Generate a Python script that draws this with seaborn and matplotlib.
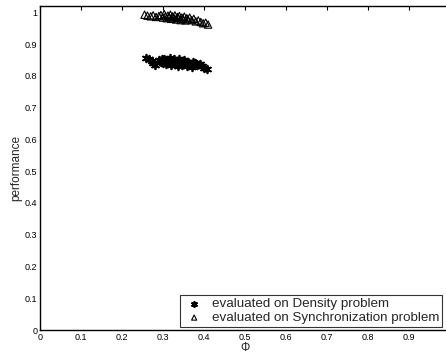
import matplotlib
matplotlib.use("Agg")
import matplotlib.pyplot as plt
import seaborn as sns
import pandas as pd

# Density problem (stars)
dens_x = [0.258, 0.265, 0.272, 0.276, 0.280, 0.290, 0.295, 0.298, 0.300, 0.303, 0.306,
          0.308, 0.311, 0.314, 0.316, 0.319, 0.322, 0.325, 0.327, 0.330, 0.333, 0.336,
          0.338, 0.341, 0.344, 0.347, 0.350, 0.352, 0.355, 0.358, 0.362, 0.366, 0.370,
          0.374, 0.378, 0.383, 0.390, 0.395, 0.400, 0.408]
dens_y = [0.856, 0.853, 0.848, 0.840, 0.834, 0.850, 0.845, 0.855, 0.840, 0.852, 0.846,
          0.838, 0.850, 0.843, 0.856, 0.835, 0.848, 0.842, 0.852, 0.838, 0.846, 0.830,
          0.855, 0.842, 0.848, 0.835, 0.851, 0.840, 0.845, 0.830, 0.843, 0.838, 0.828,
          0.845, 0.840, 0.835, 0.838, 0.830, 0.826, 0.822]

# Synchronization problem (triangles)
sync_x = [0.255, 0.262, 0.270, 0.276, 0.283, 0.290, 0.295, 0.300, 0.303, 0.306, 0.309,
          0.312, 0.315, 0.318, 0.320, 0.323, 0.326, 0.329, 0.332, 0.335, 0.338, 0.340,
          0.343, 0.346, 0.349, 0.352, 0.355, 0.358, 0.361, 0.365, 0.370, 0.375, 0.380,
          0.386, 0.392, 0.398, 0.404, 0.410]
sync_y = [0.993, 0.990, 0.988, 0.991, 0.986, 0.989, 0.992, 0.984, 0.995, 0.988, 0.982,
          0.990, 0.986, 0.993, 0.980, 0.988, 0.984, 0.991, 0.978, 0.986, 0.982, 0.989,
          0.976, 0.984, 0.980, 0.987, 0.975, 0.982, 0.978, 0.984, 0.976, 0.980, 0.972,
          0.975, 0.970, 0.966, 0.968, 0.962]

labels = ["evaluated on Density problem", "evaluated on Synchronization problem"]
x_ticks = [0, 0.1, 0.2, 0.3, 0.4, 0.5, 0.6, 0.7, 0.8, 0.9, 1]
x_tick_labels = ["0", "0.1", "0.2", "0.3", "0.4", "0.5", "0.6", "0.7", "0.8", "0.9", ""]
y_ticks = [0, 0.1, 0.2, 0.3, 0.4, 0.5, 0.6, 0.7, 0.8, 0.9, 1]
y_tick_labels = ["0", "0.1", "0.2", "0.3", "0.4", "0.5", "0.6", "0.7", "0.8", "0.9", "1"]

df = pd.concat([
    pd.DataFrame({"phi": dens_x, "perf": dens_y, "set": labels[0]}),
    pd.DataFrame({"phi": sync_x, "perf": sync_y, "set": labels[1]}),
])

sns.set_style("white")
plt.rcParams["font.family"] = ["Liberation Sans", "DejaVu Sans"]

fig = plt.figure(figsize=(4.46, 3.57), dpi=100)
ax = fig.add_axes([40 / 446, 27 / 357, 410 / 446, 324.5 / 357])

sns.scatterplot(data=df[df["set"] == labels[0]], x="phi", y="perf", marker=(6, 2, 0),
                color="black", s=30, linewidth=1.3, edgecolor="black", ax=ax,
                label=labels[0])
sns.scatterplot(data=df[df["set"] == labels[1]], x="phi", y="perf", marker="^",
                facecolor="none", edgecolor="black", s=28, linewidth=0.8, ax=ax,
                label=labels[1])

ax.set_xlim(0, 1)
ax.set_ylim(0, 1.022)
ax.set_xticks(x_ticks)
ax.set_xticklabels(x_tick_labels)
ax.set_yticks(y_ticks)
ax.set_yticklabels(y_tick_labels)
ax.tick_params(direction="in", length=3, width=0.8, labelsize=6.5, top=True,
               right=True, pad=2, colors="black")
for s in ax.spines.values():
    s.set_color("black")
    s.set_linewidth(1.0)
ax.set_xlabel("Φ", fontsize=8.5, labelpad=0)
ax.set_ylabel("performance", fontsize=8.5, labelpad=2)

leg = ax.legend(loc="lower right", bbox_to_anchor=(0.981, 0.008), fontsize=9.6,
                frameon=True, fancybox=False, edgecolor="black", borderpad=0.25,
                handletextpad=0.5, labelspacing=0.1, handlelength=1.6,
                borderaxespad=0, markerscale=0.7)
leg.get_frame().set_linewidth(0.8)

fig.savefig("out.png", dpi=100)
